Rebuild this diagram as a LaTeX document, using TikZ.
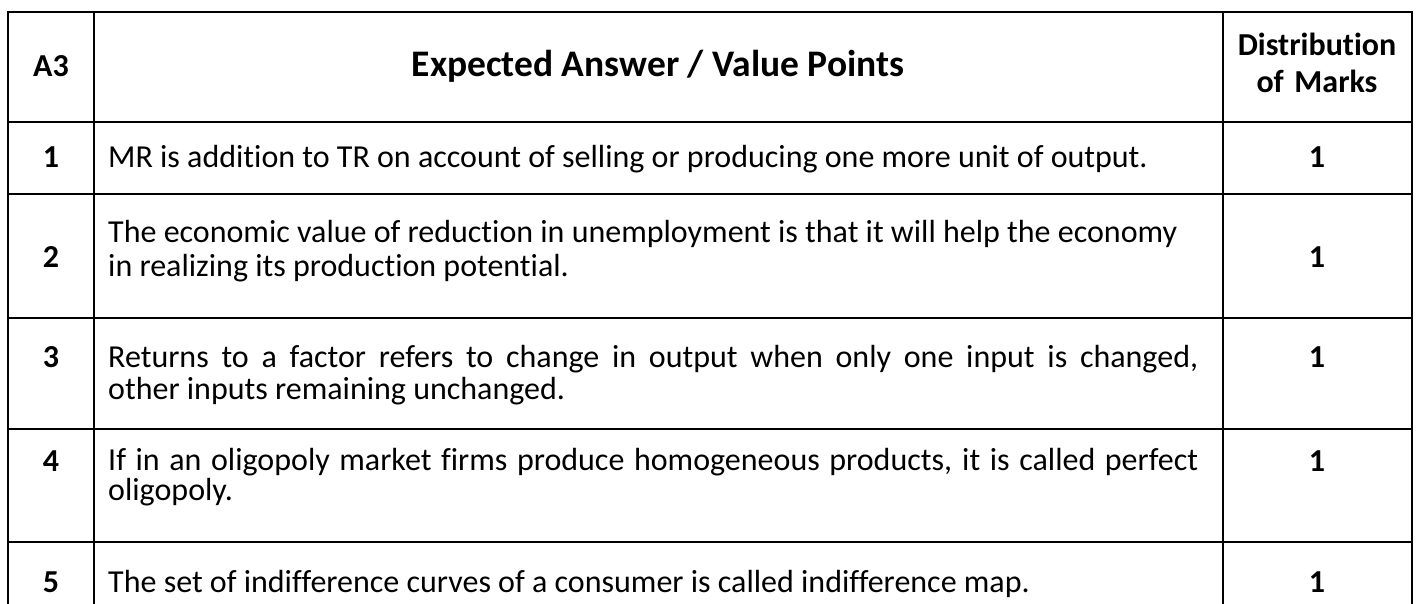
\documentclass[tikz,border=0pt]{standalone}
\usepackage{fontspec}
\setmainfont{Carlito}[Ligatures=NoCommon]
\begin{document}
\begin{tikzpicture}[x=1pt,y=1pt,yscale=-1,xscale=1,
    rule/.style={line width=2.6pt},
    num/.style={anchor=base,inner sep=0pt,font=\fontsize{32}{36}\selectfont\bfseries},
    answer/.style={anchor=base west,inner sep=0pt,text width=1090pt,align=justify,font=\fontsize{32}{32}\selectfont}]
    \useasboundingbox (0,0) rectangle (1417,604);
    %Straight Lines [frame]
    \draw [rule] (8,610) -- (8,12) -- (1412,12) -- (1412,610) ;
    \draw [rule] (94,12) -- (94,610) ;
    \draw [rule] (1223,12) -- (1223,610) ;
    %Straight Lines [rows]
    \foreach \ry in {122,194,318,429,542}
        \draw [rule] (8,\ry) -- (1412,\ry) ;
    % Text Node
    \draw (51,77) node [num] (hdA) {A3};
    % Text Node
    \draw (658,77) node [anchor=base][inner sep=0pt,font=\fontsize{37.5}{40}\selectfont\bfseries] (hdAns) {Expected Answer / Value Points};
    % Text Node
    \draw (1317,56) node [anchor=base][inner sep=0pt,text width=180pt,align=center,font=\fontsize{32}{37}\selectfont\bfseries] (hdMarks) {Distribution\\of Marks};
    % Text Node
    \draw (51,168) node [num] (q1) {1};
    \draw (108,168) node [answer] (a1) {MR is addition to TR on account of selling or producing one more unit of output.};
    \draw (1317,168) node [num] (m1) {1};
    % Text Node
    \draw (51,268) node [num] (q2) {2};
    \draw (108,243) node [answer,align=flush left,font=\fontsize{32}{34}\selectfont] (a2) {The economic value of reduction in unemployment is that it will help the economy\\in realizing its production potential.};
    \draw (1317,268) node [num] (m2) {1};
    % Text Node
    \draw (51,367) node [num] (q3) {3};
    \draw (108,367) node [answer] (a3) {Returns to a factor refers to change in output when only one input is changed,\linebreak other inputs remaining unchanged.};
    \draw (1317,367) node [num] (m3) {1};
    % Text Node
    \draw (51,471) node [num] (q4) {4};
    \draw (108,470) node [answer,font=\fontsize{32}{30}\selectfont] (a4) {If in an oligopoly market firms produce homogeneous products, it is called perfect\linebreak oligopoly.};
    \draw (1317,471) node [num] (m4) {1};
    % Text Node
    \draw (51,592) node [num] (q5) {5};
    \draw (108,592) node [answer] (a5) {The set of indifference curves of a consumer is called indifference map.};
    \draw (1317,592) node [num] (m5) {1};
\end{tikzpicture}
\end{document}
